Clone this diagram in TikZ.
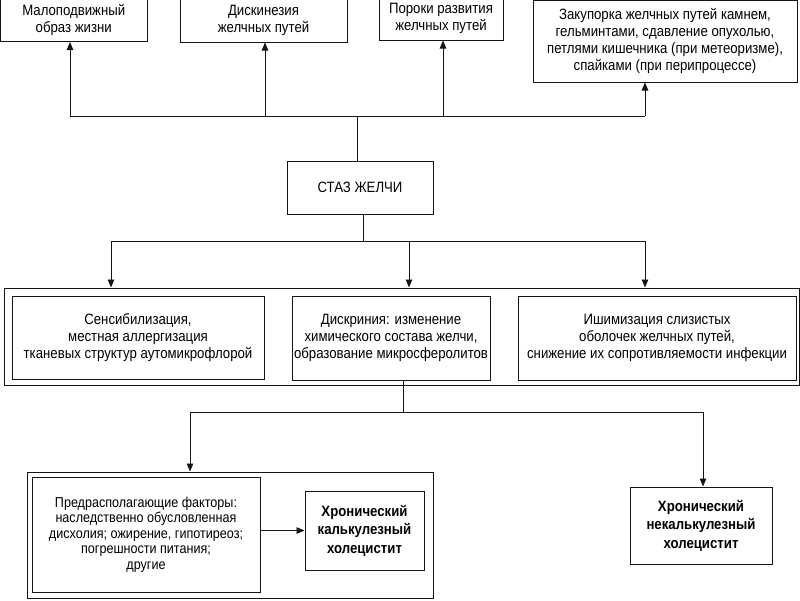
\documentclass[tikz,border=0pt]{standalone}
\usepackage{fontspec}
\setmainfont{Liberation Sans}[FakeStretch=0.88]
\usepackage{tikz}
\usetikzlibrary{arrows.meta,calc,positioning}
\definecolor{inkCol}{HTML}{151515}
\tikzset{
  box/.style n args={2}{draw=inkCol, line width=1pt, align=center, inner sep=2pt,
        minimum width=#1, minimum height=#2, font=\fontsize{15}{17}\selectfont},
  boldbox/.style n args={2}{box={#1}{#2}, font=\fontsize{15}{18.5}\selectfont\bfseries},
  frame/.style n args={2}{draw=inkCol, line width=1pt, inner sep=0pt,
        minimum width=#1, minimum height=#2},
  link/.style={draw=inkCol, line width=0.9pt},
  flow/.style={link, -{Triangle[length=8pt,width=6.5pt]}},
}

\begin{document}
\begin{tikzpicture}[x=1pt,y=-1pt]
  \fill[white] (0,0) rectangle (800,600);
  \useasboundingbox (0,0) rectangle (800,600);
  % causes (top row, cut by the page edge)
  \node[box={146.5pt}{44pt}] (life) at (73.75,19.5) {Малоподвижный\\образ жизни};
  \node[box={167pt}{44pt}] (dysk) at (263.5,20) {Дискинезия\\желчных путей};
  \node[box={124pt}{43pt}] (malf) at (441,18.5) {Пороки развития\\желчных путей};
  \node[box={264pt}{81.5pt}] (obst) at (665,41.25)
       {Закупорка желчных путей камнем,\\гельминтами, сдавление опухолью,\\петлями кишечника (при метеоризме),\\спайками (при перипроцессе)};
  \node[box={146pt}{53pt}] (stasis) at (360,187.5) {СТАЗ ЖЕЛЧИ};
  % consequences
  \node[frame={795pt}{97pt}] (effects) at (401.5,336.5) {};
  \node[box={252pt}{83pt}] (sens) at (138,337.5)
       {Сенсибилизация,\\местная аллергизация\\тканевых структур аутомикрофлорой};
  \node[box={198pt}{84pt}] (dyscr) at (391,338)
       {Дискриния: изменение\\химического состава желчи,\\образование микросферолитов};
  \node[box={278pt}{84pt}] (isch) at (657,338)
       {Ишимизация слизистых\\оболочек желчных путей,\\снижение их сопротивляемости инфекции};
  % outcomes
  \node[frame={406pt}{126pt}] (calcgrp) at (230,535) {};
  \node[box={228pt}{115pt}, font=\fontsize{14.3}{15.5}\selectfont] (predisp) at (146,534.5)
       {Предрасполагающие факторы:\\наследственно обусловленная\\дисхолия; ожирение, гипотиреоз;\\погрешности питания;\\другие};
  \node[boldbox={119pt}{79pt}] (calc) at (364.5,530.5) {Хронический\\калькулезный\\холецистит};
  \node[boldbox={142pt}{77pt}] (noncalc) at (701,525.5) {Хронический\\некалькулезный\\холецистит};
  % causes -> stasis
  \coordinate (jup) at (357,116);
  \coordinate (u1) at (70,116);
  \coordinate (u2) at (265,116);
  \coordinate (u3) at (443,116);
  \coordinate (u4) at (645,116);
  \draw[link] ([xshift=-3pt]stasis.north) -- (jup);
  \draw[link] (u1) -- (u4);
  \foreach \c/\n in {u1/life,u2/dysk,u3/malf,u4/obst}
    \draw[flow] (\c) -- (\c |- \n.south);
  % stasis -> consequences
  \coordinate (jdn) at (363,241);
  \coordinate (d1) at (111,241);
  \coordinate (d2) at (409,241);
  \coordinate (d3) at (645,241);
  \draw[link] ([xshift=3pt]stasis.south) -- (jdn);
  \draw[link] (d1) -- (d3);
  \foreach \c in {d1,d2,d3}
    \draw[flow] (\c) -- (\c |- effects.north);
  % dyscrinia -> outcomes
  \coordinate (jlow) at (403,412);
  \coordinate (l1) at (190,412);
  \coordinate (l2) at (703,412);
  \draw[link] (dyscr.south -| jlow) -- (jlow);
  \draw[link] (l1) -- (l2);
  \draw[flow] (l1) -- (l1 |- calcgrp.north);
  \draw[flow] (l2) -- (l2 |- noncalc.north);
  \draw[flow] (predisp.east |- calc.west) -- (calc.west);
\end{tikzpicture}
\end{document}
